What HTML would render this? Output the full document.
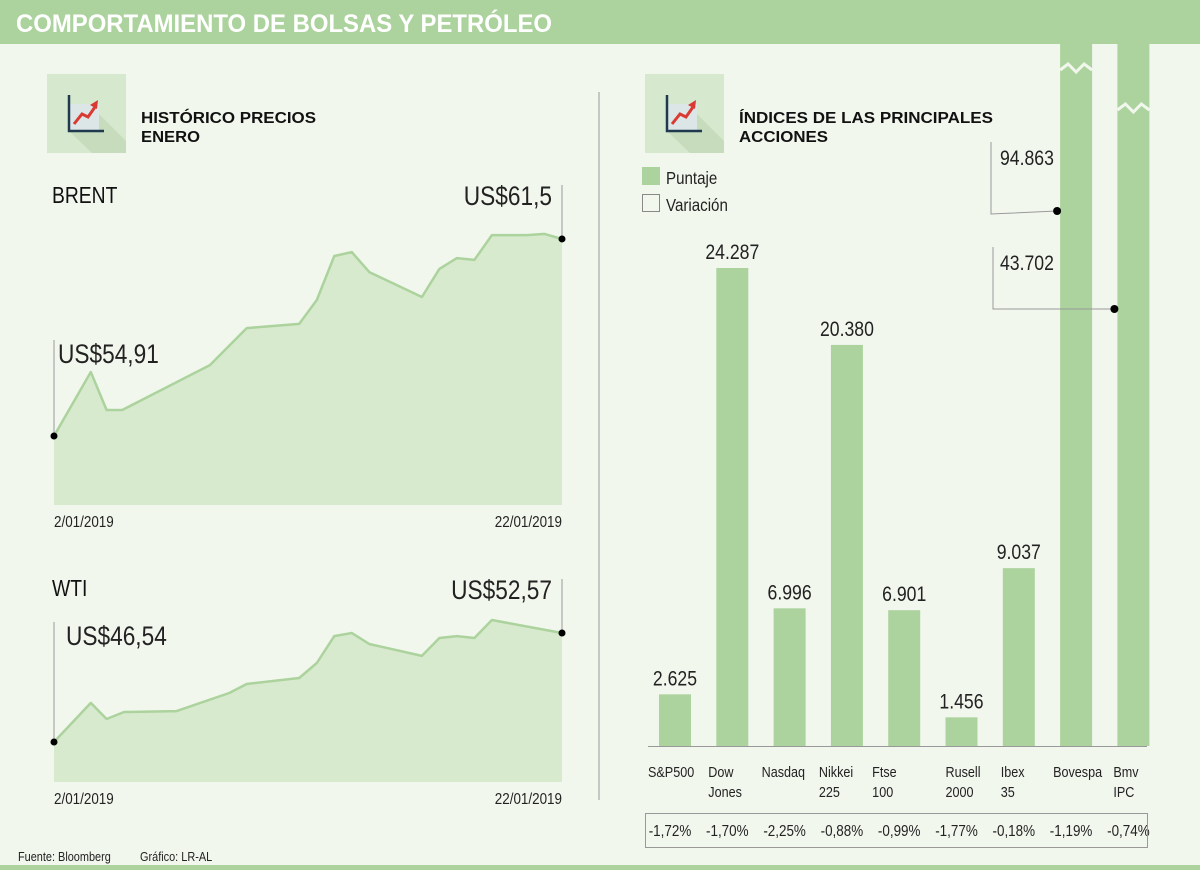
<!DOCTYPE html>
<html><head><meta charset="utf-8"><style>
html,body{margin:0;padding:0;background:#f2f7ee;}
svg{display:block;font-family:"Liberation Sans Narrow","Liberation Sans",sans-serif;}
.b{font-family:"Liberation Sans",sans-serif;font-weight:bold;}
</style></head><body>
<svg id="s" width="1200" height="870" viewBox="0 0 1200 870" xmlns="http://www.w3.org/2000/svg">
<defs>
<g id="icon">
<rect x="0" y="0" width="79" height="79" fill="#d6e8cd"/>
<polygon points="22,57 45,33 79,67 79,79 45,79" fill="#c7dbbd"/>
<rect x="22" y="30" width="30" height="27" fill="#dde6e6"/>
<path d="M22,21 V57 H57" stroke="#1f3a4f" stroke-width="2.5" fill="none"/>
<path d="M27,50 L35,40 L41,43 L48,33" stroke="#d93a33" stroke-width="3" fill="none"/>
<polygon points="43,31 51,26 50,35" fill="#d93a33"/>
</g>
</defs>
<rect x="0" y="0" width="1200" height="870" fill="#f2f7ee"/>
<rect x="0" y="0" width="1200" height="44" fill="#acd39d"/>
<text x="16" y="32" class="b" font-size="25" fill="#fff" textLength="536" lengthAdjust="spacingAndGlyphs">COMPORTAMIENTO DE BOLSAS Y PETRÓLEO</text>
<rect x="0" y="865" width="1200" height="5" fill="#acd39d"/>

<use href="#icon" x="47" y="74"/>
<text x="141" y="123" class="b" font-size="16" fill="#111" textLength="175" lengthAdjust="spacingAndGlyphs">HISTÓRICO PRECIOS</text>
<text x="141" y="142" class="b" font-size="16" fill="#111" textLength="59" lengthAdjust="spacingAndGlyphs">ENERO</text>

<use href="#icon" x="645" y="74"/>
<text x="739" y="123" class="b" font-size="16" fill="#111" textLength="254" lengthAdjust="spacingAndGlyphs">ÍNDICES DE LAS PRINCIPALES</text>
<text x="739" y="142" class="b" font-size="16" fill="#111" textLength="89" lengthAdjust="spacingAndGlyphs">ACCIONES</text>

<line x1="599" y1="92" x2="599" y2="800" stroke="#999" stroke-width="1"/>

<rect x="642" y="167" width="18" height="18" fill="#acd39d"/>
<text x="666" y="184" font-size="18" fill="#222">Puntaje</text>
<rect x="642.5" y="194.5" width="17" height="17" fill="none" stroke="#888"/>
<text x="666" y="211" font-size="18" fill="#222">Variación</text>

<g id="brent"></g>
<g id="wti"></g>
<g id="bars"></g>

<text x="18" y="861" font-size="13" fill="#222">Fuente: Bloomberg</text>
<text x="140" y="861" font-size="13" fill="#222">Gráfico: LR-AL</text>
</svg>
<script>
// Brent
const brentSteps = [0,2.1,3,3.9,8.9,11,14,15,16,17,18,21,22,23,24,25,27,28,29];
const brentValues = [54.91,57.05,55.78,55.78,57.28,58.52,58.66,59.46,60.93,61.06,60.39,59.56,60.50,60.86,60.80,61.63,61.63,61.67,61.50];
const brentLabels = ["US$54,91","US$61,5","2/01/2019","22/01/2019"];
// WTI
const wtiSteps = [0,2.1,3,4,7,10,11,14,15,16,17,18,21,22,23,24,25,29];
const wtiValues = [46.54,48.70,47.81,48.20,48.25,49.25,49.75,50.08,50.91,52.40,52.57,51.96,51.30,52.29,52.40,52.29,53.29,52.57];
const wtiLabels = ["US$46,54","US$52,57","2/01/2019","22/01/2019"];
// Bars
const indexNames = [["S&P500"],["Dow","Jones"],["Nasdaq"],["Nikkei","225"],["Ftse","100"],["Rusell","2000"],["Ibex","35"],["Bovespa"],["Bmv","IPC"]];
const indexScores = [2625,24287,6996,20380,6901,1456,9037,94863,43702];
const scoreLabels = ["2.625","24.287","6.996","20.380","6.901","1.456","9.037","94.863","43.702"];
const variations = ["-1,72%","-1,70%","-2,25%","-0,88%","-0,99%","-1,77%","-0,18%","-1,19%","-0,74%"];

const NS="http://www.w3.org/2000/svg";
function mk(tag,attrs,parent,txt){const e=document.createElementNS(NS,tag);for(const k in attrs)e.setAttribute(k,attrs[k]);if(txt!==undefined)e.textContent=txt;parent.appendChild(e);return e;}

function area(gid,steps,vals,labels,title,cfg){
  const g=document.getElementById(gid);
  const x=s=>54+s*(508/29);
  const y=v=>cfg.y0-(v-cfg.v0)*cfg.k;
  let d="M"+x(steps[0])+","+cfg.base;
  steps.forEach((s,i)=>{d+=" L"+x(s).toFixed(1)+","+y(vals[i]).toFixed(1);});
  d+=" L"+x(steps[steps.length-1])+","+cfg.base+" Z";
  const a=mk("path",{d:d,fill:"#d7eacd"},g);
  
  
  let l="";steps.forEach((s,i)=>{l+=(i?" L":"M")+x(s).toFixed(1)+","+y(vals[i]).toFixed(1);});
  const ln=mk("path",{d:l,fill:"none",stroke:"#acd39d","stroke-width":2.5,"stroke-linejoin":"round"},g);
  
  
  const x0=x(steps[0]),y0=y(vals[0]),x1=x(steps[steps.length-1]),y1=y(vals[vals.length-1]);
  mk("line",{x1:x0,y1:y0-cfg.startLead,x2:x0,y2:y0,stroke:"#999"},g);
  mk("line",{x1:x1,y1:y1-54,x2:x1,y2:y1,stroke:"#999"},g);
  const d0=mk("circle",{cx:x0,cy:y0,r:3.5,fill:"#000"},g);
  
  
  const d1=mk("circle",{cx:x1,cy:y1,r:3.5,fill:"#000"},g);
  
  
  const t0=mk("text",{x:x0+cfg.sx,y:y0-cfg.startLead+23,"font-size":27,fill:"#222"},g,labels[0]);
  
  
  const t1=mk("text",{x:x1-10,y:y1-34,"font-size":27,fill:"#222","text-anchor":"end"},g,labels[1]);
  
  
  const da=mk("text",{x:54,y:cfg.base+22,"font-size":16,fill:"#222"},g,labels[2]);
  
  
  const db=mk("text",{x:562,y:cfg.base+22,"font-size":16,fill:"#222","text-anchor":"end"},g,labels[3]);
  
  
  const tt=mk("text",{x:52,y:cfg.titleY,"font-size":23,fill:"#111"},g,title);
  
  
}
area("brent",brentSteps,brentValues,brentLabels,"BRENT",{y0:436,v0:54.91,k:29.9,base:505,startLead:96,sx:4,titleY:203});
area("wti",wtiSteps,wtiValues,wtiLabels,"WTI",{y0:742,v0:46.54,k:18.08,base:782,startLead:120,sx:12,titleY:596});

(function(){
  const g=document.getElementById("bars");
  const base=746,k=478/24287,cx=i=>675+i*57.3,w=32,maxH=base;
  indexScores.forEach((v,i)=>{
    const h=Math.min(v*k,maxH);const top=base-h;
    const r=mk("rect",{x:cx(i)-w/2,y:top,width:w,height:h,fill:"#acd39d"},g);
    
    
    if(v*k>maxH){
      const zy=i===7?70:110;
      const zz=mk("path",{d:`M${cx(i)-w/2},${zy} l8,-6 l8,8 l8,-8 l8,6`,fill:"none",stroke:"#f2f7ee","stroke-width":3},g);
      
      
      const ly=i===7?142:247, dy=i===7?211:309, lx=i===7?991:993;
      mk("path",{d:`M${lx},${ly} V${dy+(i===7?3:0)} L${cx(i)-w/2-3},${dy}`,fill:"none",stroke:"#999"},g);
      const dot=mk("circle",{cx:cx(i)-w/2-3,cy:dy,r:4,fill:"#000"},g);
      
      
      const t=mk("text",{x:1000,y:ly+23,"font-size":21,fill:"#222"},g,scoreLabels[i]);
      
      
    } else {
      const t=mk("text",{x:cx(i),y:top-9,"font-size":21,fill:"#222","text-anchor":"middle"},g,scoreLabels[i]);
      
      
    }
    indexNames[i].forEach((n,j)=>{
      const t=mk("text",{x:cx(i)-(i===0?27:i===7?23:i===2?28:i===1?24:i===8?20:i===6?18:i===4?32:i===5?16:28),y:777+j*20,"font-size":15,fill:"#222"},g,n);
      
      
    });
    const vt=mk("text",{x:cx(i)-5,y:836,"font-size":16,fill:"#222","text-anchor":"middle"},g,variations[i]);
    
    
  });
  const ax=mk("line",{x1:648,y1:base+0.5,x2:1147,y2:base+0.5,stroke:"#999"},g);
  
  
  const box=mk("rect",{x:645.5,y:813.5,width:502,height:34,fill:"none",stroke:"#999"},g);
  
  
})();

// condense non-bold text to mimic narrow typeface
document.querySelectorAll('#s text').forEach(t=>{
  if(t.classList.contains('b')) return;
  const a=t.getAttribute('text-anchor')||'start';
  t.style.transformBox='fill-box';
  t.style.transformOrigin=(a==='end'?'right':a==='middle'?'center':'left')+' center';
  t.style.transform='scaleX(0.84)';
});
</script>
</body></html>
